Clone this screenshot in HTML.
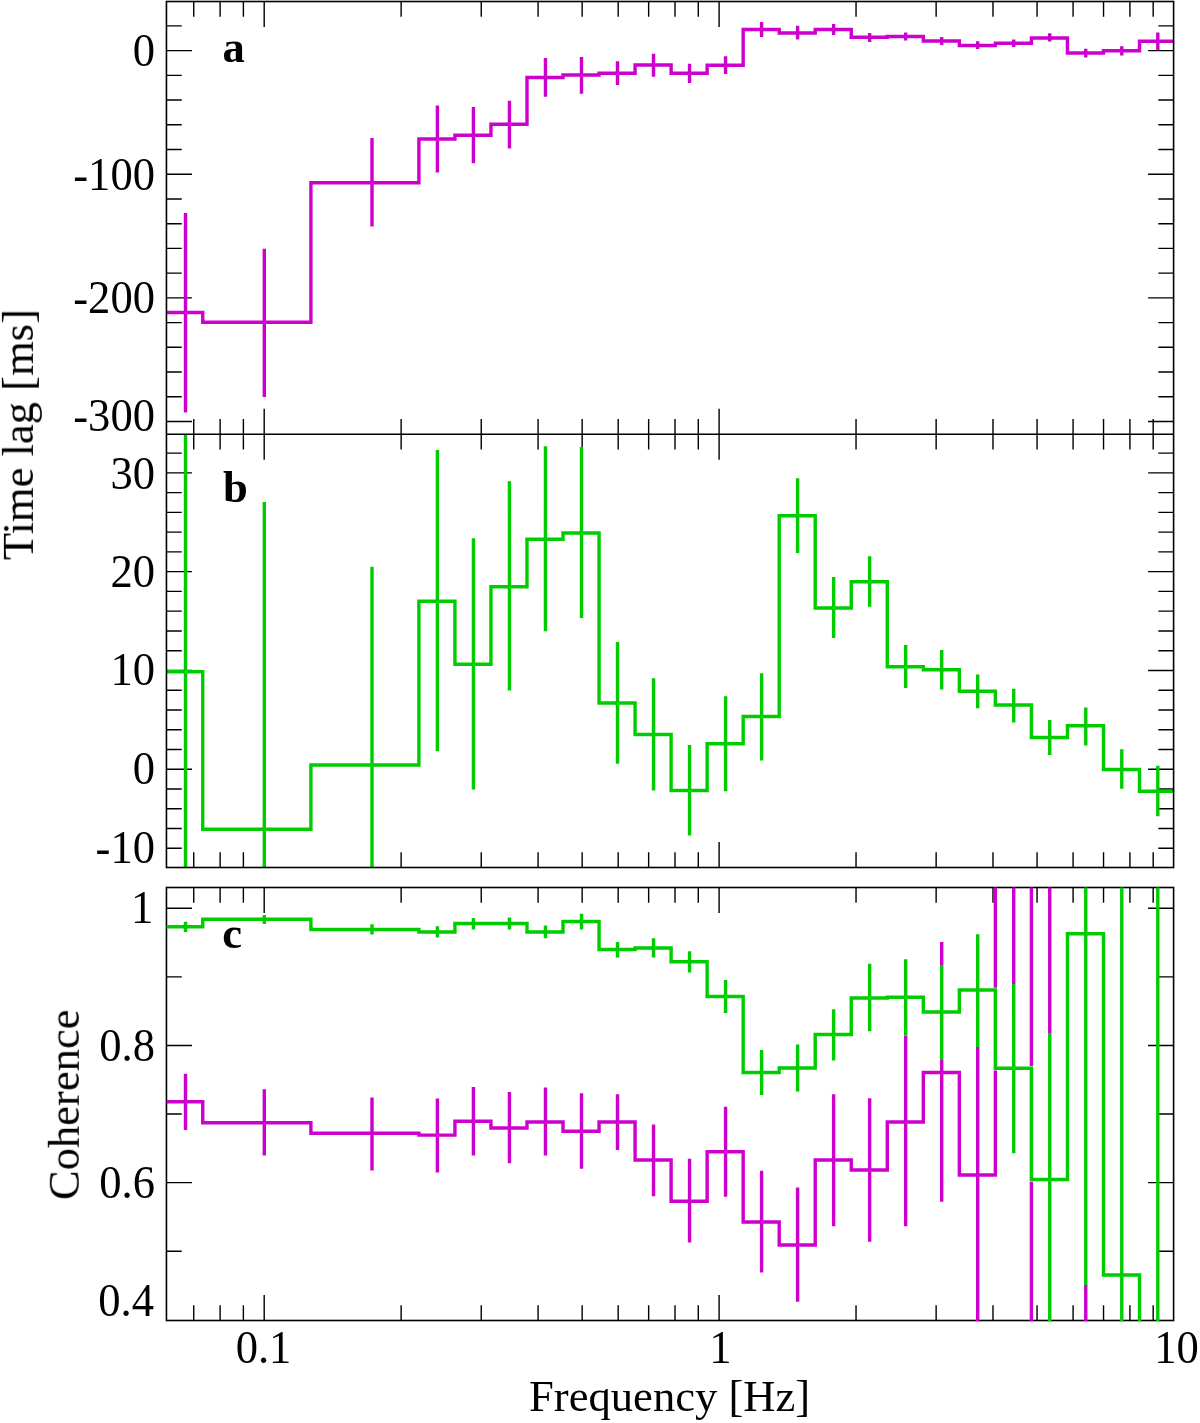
<!DOCTYPE html>
<html><head><meta charset="utf-8"><title>Time lag and coherence</title>
<style>html,body{margin:0;padding:0;background:#fff;}svg{display:block;}</style>
</head><body>
<svg width="1200" height="1423" viewBox="0 0 1200 1423">
<defs>
<clipPath id="ca"><rect x="166.45" y="1.5" width="1007.1499999999999" height="432.8"/></clipPath>
<clipPath id="cb"><rect x="166.45" y="434.3" width="1007.1499999999999" height="433.2"/></clipPath>
<clipPath id="cc"><rect x="166.45" y="887.5" width="1007.1499999999999" height="433.8"/></clipPath>
</defs>
<rect width="1200" height="1423" fill="#fff"/>
<g fill="none" stroke="#000" stroke-width="1.4">
<path d="M193.74,1.50v15.30 M220.12,1.50v15.30 M243.38,1.50v15.30 M264.20,1.50v25.50 M401.14,1.50v15.30 M481.24,1.50v15.30 M538.08,1.50v15.30 M582.16,1.50v15.30 M618.18,1.50v15.30 M648.64,1.50v15.30 M675.02,1.50v15.30 M698.28,1.50v15.30 M719.10,1.50v25.50 M856.04,1.50v15.30 M936.14,1.50v15.30 M992.98,1.50v15.30 M1037.06,1.50v15.30 M1073.08,1.50v15.30 M1103.54,1.50v15.30 M1129.92,1.50v15.30 M1153.18,1.50v15.30"/>
<path d="M193.74,434.30v-15.30 M220.12,434.30v-15.30 M243.38,434.30v-15.30 M264.20,434.30v-25.50 M401.14,434.30v-15.30 M481.24,434.30v-15.30 M538.08,434.30v-15.30 M582.16,434.30v-15.30 M618.18,434.30v-15.30 M648.64,434.30v-15.30 M675.02,434.30v-15.30 M698.28,434.30v-15.30 M719.10,434.30v-25.50 M856.04,434.30v-15.30 M936.14,434.30v-15.30 M992.98,434.30v-15.30 M1037.06,434.30v-15.30 M1073.08,434.30v-15.30 M1103.54,434.30v-15.30 M1129.92,434.30v-15.30 M1153.18,434.30v-15.30"/>
<path d="M193.74,434.30v15.30 M220.12,434.30v15.30 M243.38,434.30v15.30 M264.20,434.30v25.50 M401.14,434.30v15.30 M481.24,434.30v15.30 M538.08,434.30v15.30 M582.16,434.30v15.30 M618.18,434.30v15.30 M648.64,434.30v15.30 M675.02,434.30v15.30 M698.28,434.30v15.30 M719.10,434.30v25.50 M856.04,434.30v15.30 M936.14,434.30v15.30 M992.98,434.30v15.30 M1037.06,434.30v15.30 M1073.08,434.30v15.30 M1103.54,434.30v15.30 M1129.92,434.30v15.30 M1153.18,434.30v15.30"/>
<path d="M193.74,867.50v-15.30 M220.12,867.50v-15.30 M243.38,867.50v-15.30 M264.20,867.50v-25.50 M401.14,867.50v-15.30 M481.24,867.50v-15.30 M538.08,867.50v-15.30 M582.16,867.50v-15.30 M618.18,867.50v-15.30 M648.64,867.50v-15.30 M675.02,867.50v-15.30 M698.28,867.50v-15.30 M719.10,867.50v-25.50 M856.04,867.50v-15.30 M936.14,867.50v-15.30 M992.98,867.50v-15.30 M1037.06,867.50v-15.30 M1073.08,867.50v-15.30 M1103.54,867.50v-15.30 M1129.92,867.50v-15.30 M1153.18,867.50v-15.30"/>
<path d="M193.74,887.50v15.30 M220.12,887.50v15.30 M243.38,887.50v15.30 M264.20,887.50v25.50 M401.14,887.50v15.30 M481.24,887.50v15.30 M538.08,887.50v15.30 M582.16,887.50v15.30 M618.18,887.50v15.30 M648.64,887.50v15.30 M675.02,887.50v15.30 M698.28,887.50v15.30 M719.10,887.50v25.50 M856.04,887.50v15.30 M936.14,887.50v15.30 M992.98,887.50v15.30 M1037.06,887.50v15.30 M1073.08,887.50v15.30 M1103.54,887.50v15.30 M1129.92,887.50v15.30 M1153.18,887.50v15.30"/>
<path d="M193.74,1320.50v-15.30 M220.12,1320.50v-15.30 M243.38,1320.50v-15.30 M264.20,1320.50v-25.50 M401.14,1320.50v-15.30 M481.24,1320.50v-15.30 M538.08,1320.50v-15.30 M582.16,1320.50v-15.30 M618.18,1320.50v-15.30 M648.64,1320.50v-15.30 M675.02,1320.50v-15.30 M698.28,1320.50v-15.30 M719.10,1320.50v-25.50 M856.04,1320.50v-15.30 M936.14,1320.50v-15.30 M992.98,1320.50v-15.30 M1037.06,1320.50v-15.30 M1073.08,1320.50v-15.30 M1103.54,1320.50v-15.30 M1129.92,1320.50v-15.30 M1153.18,1320.50v-15.30"/>
<path d="M166.45,421.49h25.50 M1173.60,421.49h-25.50 M166.45,396.76h15.30 M1173.60,396.76h-15.30 M166.45,372.04h15.30 M1173.60,372.04h-15.30 M166.45,347.31h15.30 M1173.60,347.31h-15.30 M166.45,322.59h15.30 M1173.60,322.59h-15.30 M166.45,297.86h25.50 M1173.60,297.86h-25.50 M166.45,273.13h15.30 M1173.60,273.13h-15.30 M166.45,248.41h15.30 M1173.60,248.41h-15.30 M166.45,223.68h15.30 M1173.60,223.68h-15.30 M166.45,198.96h15.30 M1173.60,198.96h-15.30 M166.45,174.23h25.50 M1173.60,174.23h-25.50 M166.45,149.50h15.30 M1173.60,149.50h-15.30 M166.45,124.78h15.30 M1173.60,124.78h-15.30 M166.45,100.05h15.30 M1173.60,100.05h-15.30 M166.45,75.33h15.30 M1173.60,75.33h-15.30 M166.45,50.60h25.50 M1173.60,50.60h-25.50 M166.45,25.87h15.30 M1173.60,25.87h-15.30"/>
<path d="M166.45,848.29h15.30 M1173.60,848.29h-15.30 M166.45,828.53h15.30 M1173.60,828.53h-15.30 M166.45,808.77h15.30 M1173.60,808.77h-15.30 M166.45,789.01h15.30 M1173.60,789.01h-15.30 M166.45,769.25h25.50 M1173.60,769.25h-25.50 M166.45,749.49h15.30 M1173.60,749.49h-15.30 M166.45,729.73h15.30 M1173.60,729.73h-15.30 M166.45,709.97h15.30 M1173.60,709.97h-15.30 M166.45,690.21h15.30 M1173.60,690.21h-15.30 M166.45,670.45h25.50 M1173.60,670.45h-25.50 M166.45,650.69h15.30 M1173.60,650.69h-15.30 M166.45,630.93h15.30 M1173.60,630.93h-15.30 M166.45,611.17h15.30 M1173.60,611.17h-15.30 M166.45,591.41h15.30 M1173.60,591.41h-15.30 M166.45,571.65h25.50 M1173.60,571.65h-25.50 M166.45,551.89h15.30 M1173.60,551.89h-15.30 M166.45,532.13h15.30 M1173.60,532.13h-15.30 M166.45,512.37h15.30 M1173.60,512.37h-15.30 M166.45,492.61h15.30 M1173.60,492.61h-15.30 M166.45,472.85h25.50 M1173.60,472.85h-25.50 M166.45,453.09h15.30 M1173.60,453.09h-15.30"/>
<path d="M166.45,908.25h25.50 M1173.60,908.25h-25.50 M166.45,976.85h15.30 M1173.60,976.85h-15.30 M166.45,1045.45h25.50 M1173.60,1045.45h-25.50 M166.45,1114.05h15.30 M1173.60,1114.05h-15.30 M166.45,1182.65h25.50 M1173.60,1182.65h-25.50 M166.45,1251.25h15.30 M1173.60,1251.25h-15.30"/>
</g>
<g clip-path="url(#ca)" fill="none" stroke="#CD00CD" stroke-width="3.4" stroke-linejoin="miter" stroke-linecap="butt">
<path d="M166.40,312.50 H202.75 V322.25 H310.90 V182.80 H418.90 V139.00 H454.93 V135.25 H490.96 V124.25 H526.99 V77.50 H563.02 V75.00 H599.05 V73.25 H635.08 V65.00 H671.11 V73.25 H707.14 V65.25 H743.17 V29.50 H779.20 V33.00 H815.23 V29.50 H851.26 V37.20 H887.29 V36.50 H923.32 V41.00 H959.35 V45.50 H995.38 V43.25 H1031.41 V38.00 H1067.44 V53.00 H1103.47 V50.75 H1139.50 V41.25 H1180.00"/>
<path d="M185.50,213.00V412.50 M264.30,248.75V397.00 M372.00,138.00V226.50 M437.40,105.50V172.50 M473.42,107.00V163.25 M509.44,100.75V148.50 M545.46,58.00V96.75 M581.48,57.00V93.75 M617.50,61.25V85.00 M653.52,53.75V76.75 M689.54,63.75V83.00 M725.56,56.25V74.00 M761.58,22.00V37.00 M797.60,25.75V39.50 M833.62,24.00V35.00 M869.64,33.00V42.00 M905.66,32.50V40.50 M941.68,37.00V45.00 M977.70,41.25V49.00 M1013.72,39.50V47.00 M1049.74,33.25V41.50 M1085.76,48.75V57.50 M1121.78,46.25V55.50 M1157.80,32.50V50.00"/>
</g>
<g clip-path="url(#cb)" fill="none" stroke="#00CD00" stroke-width="3.4" stroke-linejoin="miter" stroke-linecap="butt">
<path d="M166.40,671.75 H202.75 V829.25 H310.90 V765.00 H418.90 V601.25 H454.93 V664.25 H490.96 V586.75 H526.99 V539.25 H563.02 V533.00 H599.05 V703.00 H635.08 V734.50 H671.11 V790.50 H707.14 V743.75 H743.17 V716.50 H779.20 V515.75 H815.23 V608.00 H851.26 V581.75 H887.29 V666.75 H923.32 V669.75 H959.35 V691.25 H995.38 V705.00 H1031.41 V737.50 H1067.44 V725.75 H1103.47 V769.50 H1139.50 V791.25 H1180.00"/>
<path d="M185.50,400.00V900.00 M264.30,502.00V900.00 M372.00,566.75V900.00 M437.40,450.00V751.25 M473.42,538.25V789.50 M509.44,481.25V690.50 M545.46,446.25V631.25 M581.48,447.00V618.00 M617.50,642.00V763.75 M653.52,678.25V790.50 M689.54,745.00V835.50 M725.56,696.25V791.25 M761.58,673.25V760.50 M797.60,478.25V553.00 M833.62,577.00V638.00 M869.64,556.25V606.75 M905.66,645.00V688.00 M941.68,650.00V689.50 M977.70,674.50V708.25 M1013.72,688.75V722.50 M1049.74,720.00V755.00 M1085.76,707.50V745.50 M1121.78,749.25V788.75 M1157.80,765.75V816.25"/>
</g>
<g fill="none" stroke="#000" stroke-width="1.6">
<rect x="166.45" y="1.5" width="1007.1499999999999" height="866.0"/>
<path d="M166.45,434.3H1173.6"/>
<rect x="166.45" y="887.5" width="1007.1499999999999" height="433.0"/>
</g>
<mask id="mg" maskUnits="userSpaceOnUse" x="0" y="0" width="1200" height="1423"><rect width="1200" height="1423" fill="#fff"/>
<g fill="none" stroke="#000" stroke-width="4.4" stroke-linejoin="miter"><path d="M166.40,926.75 H202.75 V919.25 H310.90 V929.50 H418.90 V932.00 H454.93 V923.50 H490.96 V923.50 H526.99 V932.00 H563.02 V921.50 H599.05 V949.50 H635.08 V948.00 H671.11 V961.75 H707.14 V996.50 H743.17 V1072.50 H779.20 V1068.00 H815.23 V1034.50 H851.26 V998.00 H887.29 V997.25 H923.32 V1012.00 H959.35 V990.00 H995.38 V1068.25 H1031.41 V1179.50 H1067.44 V933.75 H1103.47 V1275.00 H1139.50 V1400.00 H1180.00"/><path d="M185.50,921.75V932.00 M264.30,915.00V924.00 M372.00,924.25V934.50 M437.40,926.25V937.50 M473.42,918.00V929.50 M509.44,917.50V929.50 M545.46,925.50V938.25 M581.48,913.75V929.50 M617.50,942.00V957.50 M653.52,938.25V957.50 M689.54,951.25V972.50 M725.56,980.00V1013.00 M761.58,1050.00V1095.00 M797.60,1044.50V1091.50 M833.62,1009.25V1060.50 M869.64,963.75V1031.25 M905.66,959.25V1035.50 M941.68,965.00V1060.00 M977.70,934.25V1047.00 M1013.72,984.00V1153.25 M1049.74,1033.75V1400.00 M1085.76,800.00V1285.00 M1121.78,800.00V1400.00 M1157.80,800.00V1400.00"/></g></mask>
<g mask="url(#mg)">
<g clip-path="url(#cc)" fill="none" stroke="#CD00CD" stroke-width="3.4" stroke-linejoin="miter" stroke-linecap="butt">
<path d="M166.40,1101.75 H202.75 V1122.75 H310.90 V1133.25 H418.90 V1135.10 H454.93 V1121.25 H490.96 V1128.00 H526.99 V1122.00 H563.02 V1131.25 H599.05 V1122.00 H635.08 V1160.00 H671.11 V1201.25 H707.14 V1151.75 H743.17 V1222.00 H779.20 V1245.00 H815.23 V1160.00 H851.26 V1170.00 H887.29 V1122.00 H923.32 V1072.50 H959.35 V1175.00 H995.38 V800.00 H1031.41 V1400.00 H1067.44 V1400.00 H1103.47 V1400.00 H1139.50 V1400.00 H1180.00"/>
<path d="M185.50,1073.75V1130.00 M264.30,1089.25V1155.50 M372.00,1097.50V1170.50 M437.40,1098.50V1172.50 M473.42,1087.00V1155.50 M509.44,1092.00V1163.25 M545.46,1087.50V1155.50 M581.48,1093.25V1168.75 M617.50,1094.25V1150.00 M653.52,1124.50V1196.25 M689.54,1158.75V1242.50 M725.56,1106.75V1196.75 M761.58,1170.75V1272.50 M797.60,1187.50V1301.75 M833.62,1094.25V1226.25 M869.64,1098.25V1241.75 M905.66,1018.00V1226.25 M941.68,942.00V1201.75 M977.70,1000.00V1400.00 M1013.72,800.00V1100.00 M1049.74,800.00V1400.00 M1085.76,1200.00V1400.00"/>
</g>
</g>
<g clip-path="url(#cc)" fill="none" stroke="#00CD00" stroke-width="3.4" stroke-linejoin="miter" stroke-linecap="butt">
<path d="M166.40,926.75 H202.75 V919.25 H310.90 V929.50 H418.90 V932.00 H454.93 V923.50 H490.96 V923.50 H526.99 V932.00 H563.02 V921.50 H599.05 V949.50 H635.08 V948.00 H671.11 V961.75 H707.14 V996.50 H743.17 V1072.50 H779.20 V1068.00 H815.23 V1034.50 H851.26 V998.00 H887.29 V997.25 H923.32 V1012.00 H959.35 V990.00 H995.38 V1068.25 H1031.41 V1179.50 H1067.44 V933.75 H1103.47 V1275.00 H1139.50 V1400.00 H1180.00"/>
<path d="M185.50,921.75V932.00 M264.30,915.00V924.00 M372.00,924.25V934.50 M437.40,926.25V937.50 M473.42,918.00V929.50 M509.44,917.50V929.50 M545.46,925.50V938.25 M581.48,913.75V929.50 M617.50,942.00V957.50 M653.52,938.25V957.50 M689.54,951.25V972.50 M725.56,980.00V1013.00 M761.58,1050.00V1095.00 M797.60,1044.50V1091.50 M833.62,1009.25V1060.50 M869.64,963.75V1031.25 M905.66,959.25V1035.50 M941.68,965.00V1060.00 M977.70,934.25V1047.00 M1013.72,984.00V1153.25 M1049.74,1033.75V1400.00 M1085.76,800.00V1285.00 M1121.78,800.00V1400.00 M1157.80,800.00V1400.00"/>
</g>
<g font-family="'Liberation Serif', serif" font-size="44.6px" fill="#000" opacity="0.999">
<text transform="translate(155.0,65.60) scale(1,1.02)" text-anchor="end">0</text>
<text transform="translate(155.0,189.63) scale(1,1.02)" text-anchor="end">-100</text>
<text transform="translate(155.0,312.86) scale(1,1.02)" text-anchor="end">-200</text>
<text transform="translate(155.0,431.00) scale(1,1.02)" text-anchor="end">-300</text>
<text transform="translate(155.0,488.65) scale(1,1.02)" text-anchor="end">30</text>
<text transform="translate(155.0,586.65) scale(1,1.02)" text-anchor="end">20</text>
<text transform="translate(155.0,685.45) scale(1,1.02)" text-anchor="end">10</text>
<text transform="translate(155.0,784.25) scale(1,1.02)" text-anchor="end">0</text>
<text transform="translate(155.0,863.20) scale(1,1.02)" text-anchor="end">-10</text>
<text transform="translate(153.4,922.65) scale(1,1.02)" text-anchor="end">1</text>
<text transform="translate(155.0,1060.85) scale(1,1.02)" text-anchor="end">0.8</text>
<text transform="translate(155.0,1197.65) scale(1,1.02)" text-anchor="end">0.6</text>
<text transform="translate(154.0,1315.60) scale(1,1.02)" text-anchor="end">0.4</text>
<text transform="translate(263.5,1363.0) scale(1,1.02)" text-anchor="middle">0.1</text>
<text transform="translate(720.5,1363.0) scale(1,1.02)" text-anchor="middle">1</text>
<text transform="translate(1176.6,1363.0) scale(1,1.02)" text-anchor="middle">10</text>
<text x="669.6" y="1410.8" text-anchor="middle">Frequency [Hz]</text>
<text transform="translate(32.9,434.6) rotate(-90)" text-anchor="middle">Time lag [ms]</text>
<text transform="translate(78.8,1104.8) rotate(-90)" text-anchor="middle">Coherence</text>
<text x="222.5" y="62.0" font-weight="bold">a</text>
<text x="223.0" y="501.6" font-weight="bold">b</text>
<text x="222.3" y="947.8" font-weight="bold">c</text>
</g>
</svg>
</body></html>
